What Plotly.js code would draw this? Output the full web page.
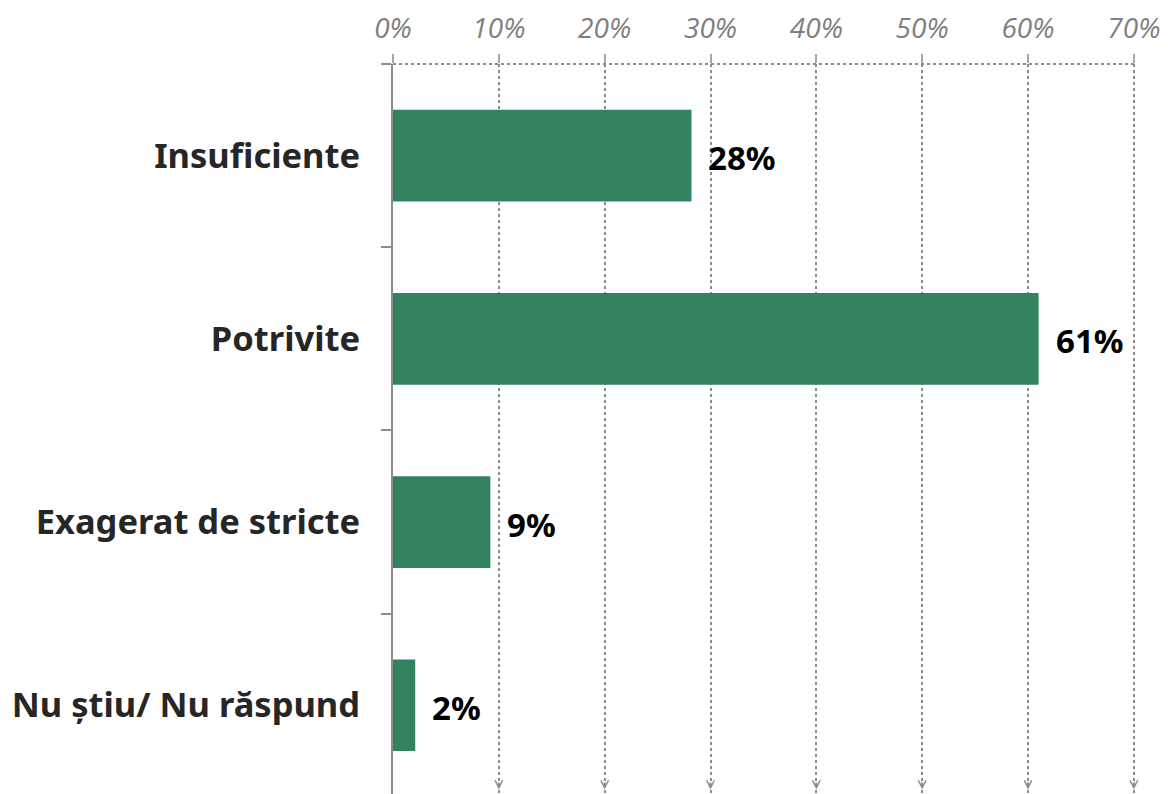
<!DOCTYPE html>
<html>
<head>
<meta charset="utf-8">
<script src="https://cdn.plot.ly/plotly-3.0.1.min.js"></script>
<style>html,body{margin:0;padding:0;background:#fff;}#chart{width:1168px;height:794px;}</style>
</head>
<body>
<div id="chart"></div>
<script>
const categories = ["Insuficiente", "Potrivite", "Exagerat de stricte", "Nu știu/ Nu răspund"];
const values = [28.2, 61.0, 9.2, 2.1];
const valueLabels = ["28%", "61%", "9%", "2%"];
const tickValues = [0, 10, 20, 30, 40, 50, 60, 70];
const tickLabels = ["0%", "10%", "20%", "30%", "40%", "50%", "60%", "70%"];

const gridGray = "#8c8c8c";

const trace = {
  type: "bar",
  orientation: "h",
  x: values,
  y: categories,
  width: 0.5,
  marker: {color: "#328260"},
  hoverinfo: "skip"
};

const labelAnnotations = values.map((v, i) => ({
  x: v, y: categories[i], xref: "x", yref: "y",
  text: valueLabels[i], showarrow: false,
  xanchor: "left", yanchor: "middle", xshift: 15, yshift: -2,
  font: {family: "Noto Sans", size: 33, color: "#000", weight: 700}
}));

const arrowAnnotations = tickValues.filter(t => t > 0).map(t => ({
  x: t, xref: "x", y: 0.006, yref: "paper",
  text: " ", font: {size: 1}, borderpad: 0,
  showarrow: true, ax: 0, ay: -8,
  arrowhead: 5, arrowsize: 0.75, arrowwidth: 2, arrowcolor: gridGray
}));

const layout = {
  width: 1168, height: 794,
  margin: {l: 393, r: 31, t: 64, b: 0, pad: 0},
  paper_bgcolor: "#fff", plot_bgcolor: "#fff",
  showlegend: false,
  bargap: 0.5,
  xaxis: {
    side: "top",
    range: [0, 70.3],
    tickvals: tickValues,
    ticktext: tickLabels,
    showgrid: true, gridcolor: gridGray, gridwidth: 2, griddash: "dot",
    zeroline: false, showline: false,
    ticks: "outside", ticklen: 9, tickwidth: 2, tickcolor: "#a8a8a8",
    ticklabelstandoff: 5,
    tickfont: {family: "Open Sans", size: 28, color: "#7f7f7f", style: "italic"},
    fixedrange: true
  },
  yaxis: {
    type: "category",
    categoryorder: "array", categoryarray: categories,
    range: [3.484, -0.5],
    showgrid: false, zeroline: false,
    showline: true, linecolor: gridGray, linewidth: 2,
    ticks: "outside", tickson: "boundaries", ticklen: 10, tickwidth: 2, tickcolor: gridGray,
    ticklabelstandoff: 24,
    tickfont: {family: "Noto Sans", size: 34.5, color: "#262626", weight: 700},
    fixedrange: true
  },
  shapes: [{
    type: "line", xref: "x", yref: "paper",
    x0: 0, x1: 70, y0: 1, y1: 1,
    line: {color: gridGray, width: 2, dash: "dot"}
  }],
  annotations: labelAnnotations.concat(arrowAnnotations)
};

Plotly.newPlot("chart", [trace], layout, {displayModeBar: false, staticPlot: true});
</script>
</body>
</html>
